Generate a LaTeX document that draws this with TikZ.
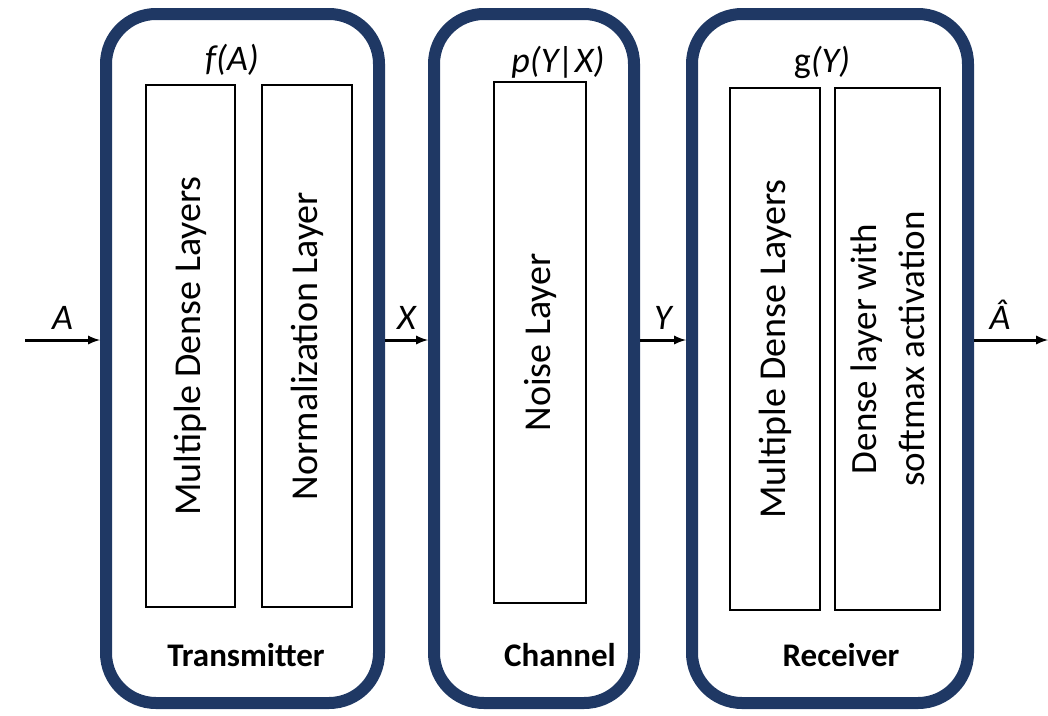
\documentclass[tikz,border=0pt]{standalone}
\usepackage{fontspec}
\setmainfont{Carlito}
\usepackage{tikz}
\usetikzlibrary{calc}
\definecolor{boxblue}{RGB}{31,56,100}

\begin{document}
\begin{tikzpicture}[x=1pt, y=-1pt,
    block/.style={draw=boxblue, line width=12pt, rounded corners=50pt, minimum height=689pt},
    layer/.style={draw, line width=2.5pt, rotate=90, minimum width=522pt, font=\fontsize{38}{46}\selectfont, align=center},
    lbl/.style={font=\fontsize{36}{40}\selectfont\itshape},
    title/.style={font=\fontsize{33}{36}\selectfont\bfseries}]
        \useasboundingbox (0,0) rectangle (1048,715);
        \node[block, minimum width=273pt] (tx) at (242.5, 358.5) {};
        \node[block, minimum width=200pt] (ch) at (534, 358.5) {};
        \node[block, minimum width=276pt] (rx) at (830, 358.5) {};

        \node[layer, minimum height=89pt] (txdense) at (190.5, 346) {Multiple Dense Layers};
        \node[layer, minimum height=90pt] (txnorm) at (307, 346) {Normalization Layer};
        \node[layer, minimum height=92pt, minimum width=521pt] (noise) at (540, 342.5) {Noise Layer};
        \node[layer, minimum height=90pt] (rxdense) at (775, 349) {Multiple Dense Layers};
        \node[layer, minimum height=105pt, font=\fontsize{37}{48}\selectfont] (rxsoft) at (887.5, 349) {Dense layer with\\softmax activation};

        \node[lbl] (flbl) at (232, 60) {f(A)};
        \node[lbl] (plbl) at (558, 62) {p(Y|X)};
        \node[lbl] (glbl) at (822, 62) {\upshape g\itshape(Y)};

        \node[title] (txlbl) at (246, 655) {Transmitter};
        \node[title] (chlbl) at (560, 655) {Channel};
        \node[title] (rxlbl) at (841, 655) {Receiver};

        \coordinate (ain) at (25, 340);
        \coordinate (aout) at (1048, 340);
        \draw[-latex, line width=3pt] (ain) -- (ain -| tx.west) node [midway, above=6pt, lbl] {A};
        \draw[-latex, line width=3pt] (ain -| tx.east) -- (ain -| ch.west) node [midway, above=6pt, lbl] {X};
        \draw[-latex, line width=3pt] (ain -| ch.east) -- (ain -| rx.west) node [midway, above=6pt, lbl] {Y};
        \draw[-latex, line width=3pt] (ain -| rx.east) -- (aout) node [pos=0.35, above=6pt, lbl] {\^{A}};
    \end{tikzpicture}
\end{document}
